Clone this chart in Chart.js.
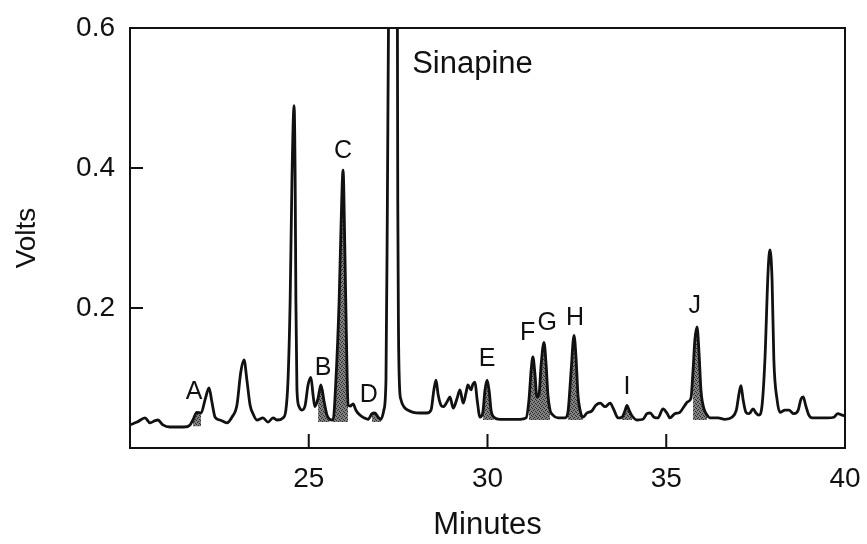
<!DOCTYPE html>
<html>
<head>
<meta charset="utf-8">
<script src="https://cdn.jsdelivr.net/npm/chart.js@4/dist/chart.umd.min.js"></script>
<style>
  html, body { margin: 0; padding: 0; background: #fff; }
  #wrap { width: 867px; height: 544px; }
</style>
</head>
<body>
<div id="wrap"><canvas id="chromChart" width="867" height="544"></canvas></div>
<script>
// Detector trace: retention time (min) and signal (V)
const minutes = [
  20.00, 20.20, 20.42, 20.56, 20.70, 20.78, 20.92, 21.12, 21.31, 21.51,
  21.68, 21.76, 21.87, 21.99, 22.10, 22.21, 22.29, 22.38, 22.52, 22.71,
  22.85, 22.99, 23.10, 23.19, 23.27, 23.36, 23.44, 23.55, 23.72, 23.86,
  24.00, 24.11, 24.28, 24.36, 24.42, 24.48, 24.53, 24.59, 24.62, 24.64,
  24.67, 24.73, 24.81, 24.90, 24.98, 25.06, 25.12, 25.17, 25.26, 25.34,
  25.43, 25.51, 25.59, 25.68, 25.76, 25.85, 25.90, 25.96, 26.01, 26.06,
  26.10, 26.16, 26.24, 26.32, 26.43, 26.55, 26.66, 26.77, 26.85, 26.94,
  27.02, 27.10, 27.16, 27.20, 27.23, 27.36, 27.48, 27.49, 27.51, 27.54,
  27.58, 27.66, 27.78, 27.92, 28.11, 28.31, 28.42, 28.50, 28.56, 28.62,
  28.70, 28.76, 28.87, 28.95, 29.04, 29.15, 29.23, 29.32, 29.40, 29.45,
  29.54, 29.59, 29.65, 29.71, 29.79, 29.87, 29.93, 29.99, 30.05, 30.10,
  30.18, 30.35, 30.63, 30.91, 31.08, 31.16, 31.22, 31.27, 31.33, 31.38,
  31.44, 31.50, 31.58, 31.64, 31.69, 31.75, 31.83, 31.97, 32.17, 32.25,
  32.34, 32.42, 32.48, 32.53, 32.59, 32.67, 32.78, 32.92, 33.03, 33.15,
  33.29, 33.43, 33.54, 33.65, 33.76, 33.85, 33.90, 33.96, 34.04, 34.18,
  34.35, 34.46, 34.55, 34.66, 34.77, 34.91, 35.03, 35.10, 35.24, 35.38,
  35.52, 35.60, 35.69, 35.75, 35.80, 35.86, 35.92, 35.97, 36.05, 36.14,
  36.22, 36.45, 36.64, 36.84, 36.96, 37.04, 37.09, 37.15, 37.23, 37.32,
  37.43, 37.51, 37.59, 37.68, 37.76, 37.85, 37.90, 37.96, 38.01, 38.10,
  38.18, 38.32, 38.43, 38.57, 38.69, 38.77, 38.83, 38.90, 38.99, 39.08,
  39.30, 39.52, 39.69, 39.80, 39.92, 40.00
];
const volts = [
  0.033, 0.037, 0.043, 0.036, 0.039, 0.040, 0.033, 0.030, 0.030, 0.030,
  0.033, 0.040, 0.051, 0.050, 0.069, 0.086, 0.066, 0.044, 0.040, 0.036,
  0.044, 0.061, 0.109, 0.126, 0.097, 0.061, 0.049, 0.040, 0.043, 0.037,
  0.043, 0.040, 0.043, 0.054, 0.097, 0.211, 0.383, 0.489, 0.383, 0.211,
  0.083, 0.059, 0.054, 0.061, 0.090, 0.101, 0.076, 0.059, 0.071, 0.090,
  0.066, 0.047, 0.041, 0.040, 0.097, 0.211, 0.311, 0.397, 0.283, 0.140,
  0.061, 0.060, 0.063, 0.054, 0.047, 0.043, 0.041, 0.049, 0.050, 0.044,
  0.041, 0.054, 0.097, 0.354, 0.600, 1.200, 0.600, 0.354, 0.169, 0.087,
  0.069, 0.059, 0.054, 0.051, 0.050, 0.050, 0.054, 0.083, 0.097, 0.076,
  0.061, 0.059, 0.066, 0.073, 0.057, 0.071, 0.083, 0.064, 0.079, 0.090,
  0.083, 0.091, 0.094, 0.069, 0.044, 0.051, 0.083, 0.097, 0.080, 0.054,
  0.044, 0.041, 0.041, 0.041, 0.043, 0.069, 0.111, 0.130, 0.104, 0.073,
  0.076, 0.119, 0.151, 0.119, 0.076, 0.054, 0.047, 0.043, 0.043, 0.051,
  0.111, 0.161, 0.126, 0.076, 0.054, 0.044, 0.050, 0.053, 0.061, 0.064,
  0.059, 0.064, 0.054, 0.043, 0.044, 0.054, 0.061, 0.054, 0.046, 0.040,
  0.041, 0.049, 0.050, 0.044, 0.043, 0.056, 0.049, 0.043, 0.049, 0.051,
  0.061, 0.066, 0.071, 0.111, 0.154, 0.173, 0.133, 0.083, 0.057, 0.047,
  0.043, 0.043, 0.041, 0.044, 0.054, 0.079, 0.089, 0.069, 0.051, 0.049,
  0.056, 0.050, 0.047, 0.061, 0.126, 0.254, 0.283, 0.240, 0.126, 0.069,
  0.051, 0.054, 0.054, 0.049, 0.054, 0.070, 0.073, 0.061, 0.047, 0.043,
  0.043, 0.043, 0.044, 0.049, 0.047, 0.046
];

// Integrated peaks: start / end time and baseline level
const shadeStart = [21.73, 25.20, 25.66, 26.70, 29.85, 31.12, 32.24, 33.75, 35.70];
const shadeEnd   = [22.00, 25.66, 26.12, 27.05, 30.20, 31.76, 32.74, 34.08, 36.15];
const shadeBase  = [0.031, 0.037, 0.037, 0.037, 0.040, 0.040, 0.040, 0.040, 0.040];

// Peak annotations
const peakNames   = ['A', 'B', 'C', 'D', 'E', 'F', 'G', 'H', 'I', 'J', 'Sinapine'];
const peakMinutes = [21.79, 25.40, 25.96, 26.68, 29.99, 31.12, 31.67, 32.45, 33.90, 35.80, 29.58];
const peakVolts   = [0.080, 0.114, 0.424, 0.075, 0.127, 0.164, 0.179, 0.186, 0.087, 0.203, 0.548];

const xTicks = [25, 30, 35, 40];
const yTicks = [0.2, 0.4, 0.6];

const FONT = "'Liberation Sans', Arial, Helvetica, sans-serif";

const trace = minutes.map((m, i) => ({ x: m, y: volts[i] }));

// stippled grey used for the integrated areas
function stipple() {
  const c = document.createElement('canvas');
  c.width = 4; c.height = 4;
  const g = c.getContext('2d');
  g.fillStyle = '#808080';
  g.fillRect(0, 0, 4, 4);
  g.fillStyle = '#2a2a2a';
  g.fillRect(0, 0, 1, 1);
  g.fillRect(2, 1, 1, 1);
  g.fillRect(1, 2, 1, 1);
  g.fillRect(3, 3, 1, 1);
  return document.getElementById('chromChart').getContext('2d').createPattern(c, 'repeat');
}
const shadeFill = stipple();

const shadeSets = shadeStart.map((s, k) => ({
  data: trace.filter(p => p.x >= s && p.x <= shadeEnd[k]),
  borderWidth: 0,
  pointRadius: 0,
  backgroundColor: shadeFill,
  fill: { value: shadeBase[k] },
  cubicInterpolationMode: 'monotone',
  order: 2
}));

// box frame, inward tick marks and peak letters
const framePlugin = {
  id: 'frame',
  afterDatasetsDraw(chart) {
    const { ctx, chartArea: a, scales } = chart;
    ctx.save();
    ctx.strokeStyle = '#111';
    ctx.lineWidth = 2;
    ctx.strokeRect(a.left, a.top, a.right - a.left, a.bottom - a.top);
    ctx.beginPath();
    scales.y.ticks.forEach(t => {
      if (t.value <= scales.y.min || t.value >= scales.y.max) return;
      const py = scales.y.getPixelForValue(t.value);
      ctx.moveTo(a.left, py);
      ctx.lineTo(a.left + 13, py);
    });
    scales.x.ticks.forEach(t => {
      if (t.value <= scales.x.min || t.value >= scales.x.max) return;
      const px = scales.x.getPixelForValue(t.value);
      ctx.moveTo(px, a.bottom);
      ctx.lineTo(px, a.bottom - 14);
    });
    ctx.stroke();

    ctx.fillStyle = '#111';
    ctx.textAlign = 'center';
    ctx.textBaseline = 'middle';
    peakNames.forEach((name, i) => {
      ctx.font = (name.length > 1 ? '31px ' : '25px ') + FONT;
      ctx.fillText(name, scales.x.getPixelForValue(peakMinutes[i]), scales.y.getPixelForValue(peakVolts[i]));
    });
    ctx.restore();
  }
};

new Chart(document.getElementById('chromChart'), {
  type: 'line',
  data: {
    datasets: [
      {
        data: trace,
        borderColor: '#111',
        borderWidth: 2.8,
        pointRadius: 0,
        fill: false,
        cubicInterpolationMode: 'monotone',
        order: 1
      },
      ...shadeSets
    ]
  },
  options: {
    responsive: false,
    animation: false,
    devicePixelRatio: 1,
    layout: { padding: { top: 28, right: 22, left: 0, bottom: 0 } },
    plugins: { legend: { display: false }, tooltip: { enabled: false } },
    scales: {
      x: {
        type: 'linear',
        min: 20,
        max: 40,
        afterBuildTicks: s => { s.ticks = [20, ...xTicks].map(v => ({ value: v })); },
        afterFit: s => { s.height = 96; s.paddingLeft = 0; s.paddingRight = 0; },
        grid: { display: false, drawTicks: false },
        border: { display: false },
        ticks: {
          padding: 14,
          color: '#111',
          font: { family: FONT, size: 28 },
          callback: v => (xTicks.includes(v) ? String(v) : '')
        },
        title: {
          display: true,
          text: 'Minutes',
          color: '#111',
          font: { family: FONT, size: 31 },
          padding: { top: 0, bottom: 0 }
        }
      },
      y: {
        min: 0,
        max: 0.6,
        afterBuildTicks: s => { s.ticks = [0, ...yTicks].map(v => ({ value: v })); },
        afterFit: s => { s.width = 130; s.paddingTop = 0; s.paddingBottom = 0; },
        grid: { display: false, drawTicks: false },
        border: { display: false },
        ticks: {
          padding: 15,
          color: '#111',
          font: { family: FONT, size: 28 },
          callback: v => (v > 0 ? v.toFixed(1) : '')
        },
        title: {
          display: true,
          text: 'Volts',
          color: '#111',
          font: { family: FONT, size: 28 },
          padding: { top: 10, bottom: 0 }
        }
      }
    }
  },
  plugins: [framePlugin]
});
</script>
</body>
</html>
